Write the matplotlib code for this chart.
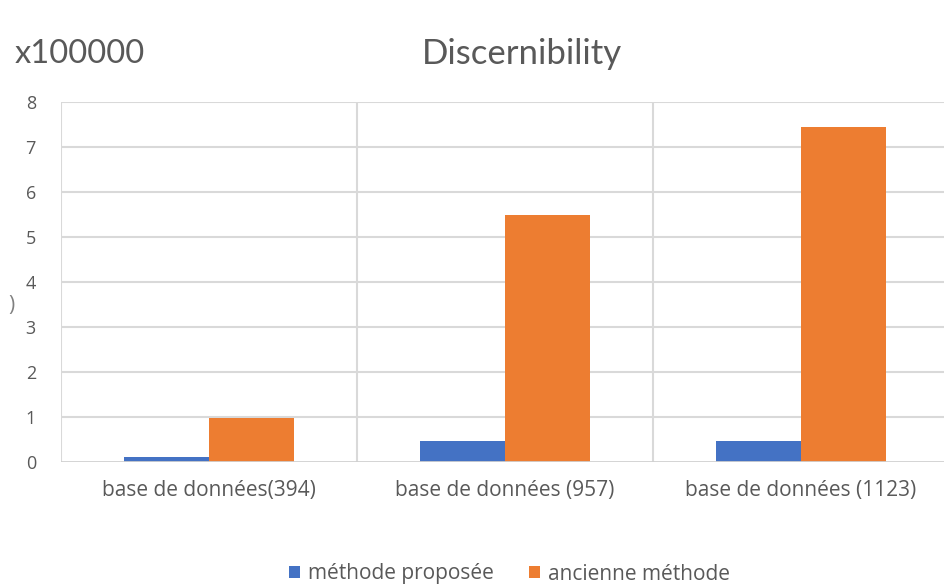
import matplotlib.pyplot as plt
import numpy as np

plt.rcParams['font.family'] = ['Open Sans', 'DejaVu Sans']

categories = ['base de données(394)', 'base de données (957)', 'base de données (1123)']
series_names = ['méthode proposée', 'ancienne méthode']
proposed = [0.11, 0.47, 0.47]
old = [0.97, 5.49, 7.44]
yticks = [0, 1, 2, 3, 4, 5, 6, 7, 8]

blue = '#4472C4'
orange = '#ED7D31'
grid = '#d9d9d9'
txt = '#595959'

fig = plt.figure(figsize=(9.44, 5.87), dpi=100)
ax = fig.add_axes([61 / 944, 0.213, 888 / 944, 0.613])

x = np.arange(len(categories))
w = 0.287
ax.bar(x - w / 2, proposed, w, color=blue, label=series_names[0], zorder=3)
ax.bar(x + w / 2, old, w, color=orange, label=series_names[1], zorder=3)

ax.set_xlim(-0.5, 2.5)
ax.set_ylim(0, 8)
ax.set_yticks(yticks)
ax.set_yticklabels([str(t) for t in yticks], fontsize=13, color=txt)
ax.set_xticks(x)
ax.set_xticklabels(categories, fontsize=15, color=txt)
ax.tick_params(length=0)
ax.tick_params(axis='y', pad=18)
ax.tick_params(axis='x', pad=13)

# horizontal gridlines and category separators
for t in yticks[1:]:
    ax.axhline(t, color=grid, lw=1.5, zorder=1)
for b in [-0.5, 0.5, 1.5]:
    ax.axvline(b, color=grid, lw=1.5, zorder=1)
for s in ax.spines.values():
    s.set_visible(False)
ax.axhline(0, color='#d0d0d0', lw=2, zorder=4)

title_font = ['Lato', 'DejaVu Sans']
fig.text(422 / 944, 1 - 54 / 587, 'Discernibility', ha='left', va='center',
         fontsize=25, color=txt, family=title_font)
fig.text(15 / 944, 1 - 54 / 587, 'x100000', ha='left', va='center',
         fontsize=23.5, color=txt, family=title_font)
fig.text(8 / 944, 1 - 305 / 587, ')', ha='left', va='center',
         fontsize=15, color='#808080')

leg = fig.legend(loc='center', bbox_to_anchor=(0.54, 1 - 574 / 587), ncol=2,
                 frameon=False, fontsize=15, handlelength=0.5, handleheight=0.5,
                 handletextpad=0.4, columnspacing=1.7)
for t in leg.get_texts():
    t.set_color(txt)

fig.savefig('out.png', dpi=100, facecolor='white')
